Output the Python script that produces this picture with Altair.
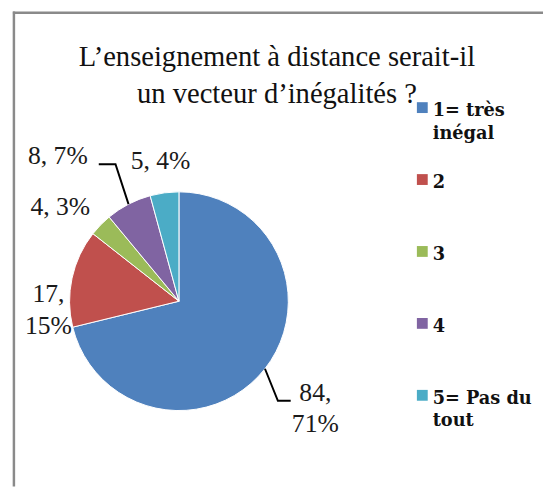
import math
import altair as alt
import pandas as pd

# ---------------- data ----------------
categories = ["1= très inégal", "2", "3", "4", "5= Pas du tout"]
legend_labels = ["1= très\ninégal", "2", "3", "4", "5= Pas du\ntout"]
values = [84, 17, 4, 8, 5]
percent_labels = ["71%", "15%", "3%", "7%", "4%"]
title_lines = ["L’enseignement à distance serait-il", "un vecteur d’inégalités ?"]

# ---------------- style ----------------
colors = ["#4F81BD", "#C0504D", "#9BBB59", "#8064A2", "#4BACC6"]
label_sep = ["\n", "\n", " ", " ", " "]          # two-line or one-line data labels
label_dist = [171.4, 132.5, 148.6, 185.6, 135.3]  # distance of label from pie centre
label_nudge = [-2.0, -12.6, -8.4, -14.0, -0.3]    # angular nudge (deg) of label
leader_slices = [0, 3]                           # slices with a leader line
leader_elbow = {0: (-38, 0), 3: (58.5, 0)}
leader_end = {0: (-25, 0), 3: (41.5, 0)}

W, H = 543, 482
CX, CY, R = 173.5, 294.0, 111.0
SERIF = "Liberation Serif"

# ---------------- derived tables ----------------
total = sum(values)
mid_angles = []
acc = 0
for v in values:
    mid_angles.append((acc + v / 2) / total * 360.0)
    acc += v

pie_df = pd.DataFrame({"cat": categories, "value": values, "idx": list(range(len(values)))})

lab_rows = []
for i, v in enumerate(values):
    a = math.radians(mid_angles[i] + label_nudge[i])
    lab_rows.append({
        "text": f"{v},{label_sep[i]}{percent_labels[i]}",
        "x": CX + label_dist[i] * math.sin(a),
        "y": CY - label_dist[i] * math.cos(a),
    })
lab_df = pd.DataFrame(lab_rows)

lead_rows = []
for i in leader_slices:
    a = math.radians(mid_angles[i])
    ex, ey = CX + R * math.sin(a), CY - R * math.cos(a)
    lx, ly = lab_rows[i]["x"], lab_rows[i]["y"]
    pts = [(ex, ey),
           (lx + leader_elbow[i][0], ly + leader_elbow[i][1]),
           (lx + leader_end[i][0], ly + leader_end[i][1])]
    for k, (px, py) in enumerate(pts):
        lead_rows.append({"slice": i, "step": k, "x": px, "y": py})
lead_df = pd.DataFrame(lead_rows)

leg_df = pd.DataFrame({"cat": categories, "label": legend_labels})
one = pd.DataFrame({"a": [0]})

color_scale = alt.Scale(domain=categories, range=colors)
leg_y = alt.Y("cat:N", scale=alt.Scale(type="point", domain=categories,
                                       range=[97.5, 389.5], padding=0), axis=None)

# ---------------- layers ----------------
frame_left = alt.Chart(one).mark_rule(color="#8a8a8a", strokeWidth=2.5).encode(
    x=alt.value(6), y=alt.value(0), y2=alt.value(H))
frame_top = alt.Chart(one).mark_rule(color="#8a8a8a", strokeWidth=2.5).encode(
    x=alt.value(5), x2=alt.value(W), y=alt.value(1.2))

pie = alt.Chart(pie_df).mark_arc(outerRadius=R, stroke="white", strokeWidth=1).encode(
    theta=alt.Theta("value:Q", stack=True),
    color=alt.Color("cat:N", scale=color_scale, legend=None),
    order=alt.Order("idx:Q"),
    x=alt.value(CX), y=alt.value(CY),
)

labels = alt.Chart(lab_df).mark_text(
    font=SERIF, fontSize=26, lineHeight=32, lineBreak="\n",
    align="center", baseline="alphabetic", color="#1a1a1a",
).encode(
    x=alt.X("x:Q", scale=None), y=alt.Y("y:Q", scale=None), text="text:N")

leaders = alt.Chart(lead_df).mark_line(color="black", strokeWidth=2).encode(
    x=alt.X("x:Q", scale=None), y=alt.Y("y:Q", scale=None),
    detail="slice:N", order="step:Q")

leg_sq = alt.Chart(leg_df).mark_square(size=121, opacity=1).encode(
    x=alt.value(420.5), y=leg_y,
    color=alt.Color("cat:N", scale=color_scale, legend=None))

leg_txt = alt.Chart(leg_df).mark_text(
    font="DejaVu Serif", fontWeight="bold", fontSize=18, lineHeight=23,
    lineBreak="\n", align="left", baseline="alphabetic", dy=8.5, color="#111111",
).encode(x=alt.value(431), y=leg_y, text="label:N")

title = alt.Chart(one).mark_text(
    font=SERIF, fontSize=29, lineHeight=38, lineBreak="\n",
    align="center", baseline="alphabetic", color="#111111",
).encode(x=alt.value(273), y=alt.value(55), text=alt.value("\n".join(title_lines)))

chart = alt.layer(
    frame_left, frame_top, pie, leaders, labels, leg_sq, leg_txt, title
).resolve_scale(x="independent", y="independent").properties(
    width=W, height=H, autosize=alt.AutoSizeParams(type="none"), padding=0,
    background="white",
).configure_view(strokeWidth=0)

chart.save("out.html", embed_options={"renderer": "svg", "actions": False})
